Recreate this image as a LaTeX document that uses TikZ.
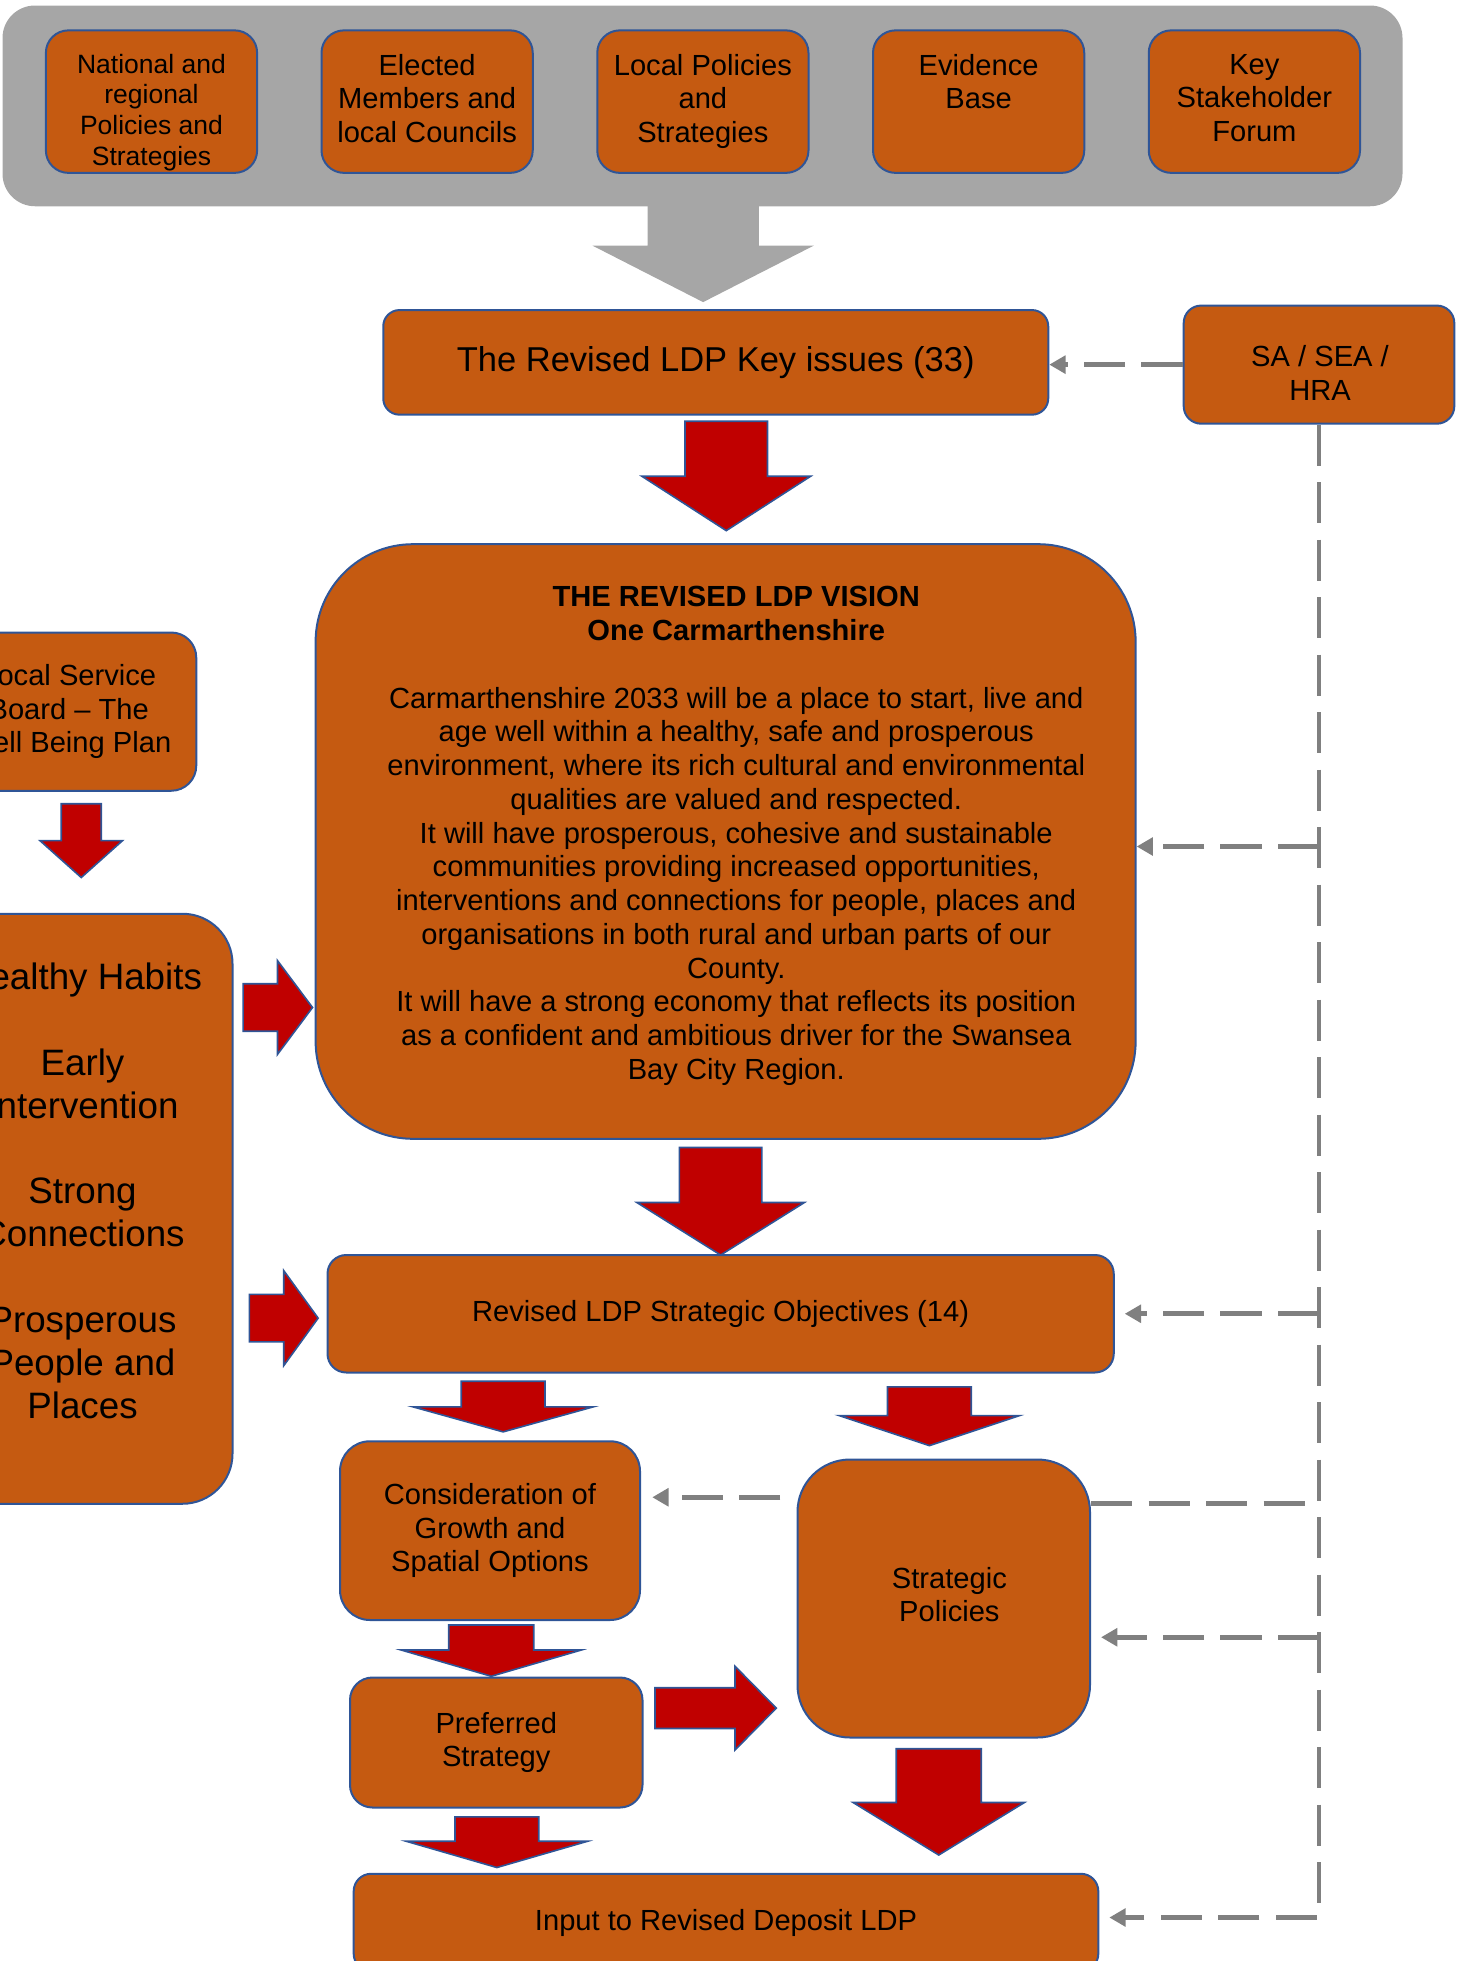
\documentclass[tikz,border=0pt]{standalone}
\usepackage{fontspec}
\setmainfont{Liberation Sans}
\usetikzlibrary{arrows.meta}

\definecolor{boxfill}{HTML}{C55A11}
\definecolor{boxline}{HTML}{2F5597}
\definecolor{arrowred}{HTML}{C00000}
\definecolor{panelgrey}{HTML}{A6A6A6}
\definecolor{dashgrey}{HTML}{808080}

% block arrows: x centre, top, neck, tip, stem half width, head half width
\newcommand{\blockdown}[7][redblock]{%
  \path[#1] (#2-#6,#3) -- (#2+#6,#3) -- (#2+#6,#4) -- (#2+#7,#4) -- (#2,#5)
    -- (#2-#7,#4) -- (#2-#6,#4) -- cycle;}
% y centre, left, neck, tip, stem half width, head half width
\newcommand{\blockright}[6]{%
  \path[redblock] (#2,#1-#5) -- (#3,#1-#5) -- (#3,#1-#6) -- (#4,#1)
    -- (#3,#1+#6) -- (#3,#1+#5) -- (#2,#1+#5) -- cycle;}

\begin{document}
\begin{tikzpicture}[x=1pt, y=-1pt,
    box/.style={draw=boxline, line width=1.6pt, fill=boxfill, inner sep=0pt,
      align=center, font=\fontsize{23.3}{27}\selectfont},
    boxtext/.style={inner sep=0pt, align=center, anchor=north,
      font=\fontsize{23.3}{27}\selectfont},
    redblock/.style={fill=arrowred, draw=boxline, line width=1.3pt},
    greyblock/.style={fill=panelgrey},
    feedback/.style={draw=dashgrey, line width=3.8pt, dash pattern=on 33pt off 13pt},
    fbarrow/.style={-{Triangle[length=13pt,width=14pt]}}]
    \useasboundingbox (0,0) rectangle (1170.4,1568.8);
    \clip (0,0) rectangle (1170.4,1568.8);

    % sources panel
    \node[fill=panelgrey, rounded corners=26pt, inner sep=0pt,
      minimum width=1120pt, minimum height=160.6pt] (sources) at (562,84.7) {};
    \node[box, rounded corners=18pt, minimum width=169pt, minimum height=114pt] (natpol) at (121.2,81.3) {};
    \node[box, rounded corners=18pt, minimum width=169pt, minimum height=114pt] (members) at (341.7,81.3) {};
    \node[box, rounded corners=18pt, minimum width=169pt, minimum height=114pt] (localpol) at (562.3,81.3) {};
    \node[box, rounded corners=18pt, minimum width=169pt, minimum height=114pt] (evidence) at (782.9,81.3) {};
    \node[box, rounded corners=18pt, minimum width=169pt, minimum height=114pt] (forum) at (1003.5,81.3) {};
    \node[boxtext, font=\fontsize{21.2}{24.6}\selectfont] (natpol-text) at (121.2,43) {National and\\regional\\Policies and\\Strategies};
    \node[boxtext] (members-text) at (341.7,43) {Elected\\Members and\\local Councils};
    \node[boxtext] (localpol-text) at (562.3,43) {Local Policies\\and\\Strategies};
    \node[boxtext] (evidence-text) at (782.9,43) {Evidence\\Base};
    \node[boxtext] (forum-text) at (1003.5,43) {Key\\Stakeholder\\Forum};
    \blockdown[greyblock]{562.5}{160}{196.5}{241.7}{44.5}{88.5}

    % main column
    \node[box, rounded corners=13pt, minimum width=532pt, minimum height=83.7pt,
      font=\fontsize{27.6}{31}\selectfont] (issues) at (572.6,289.9) {The Revised LDP Key issues (33)};
    \node[box, rounded corners=14pt, minimum width=216.5pt, minimum height=94.5pt] (sa) at (1055.2,291.7) {};
    \node[boxtext] (sa-text) at (1056,276) {SA / SEA /\\HRA};
    \blockdown{581}{337}{381}{424.5}{33}{67.5}

    \node[box, rounded corners=78pt, minimum width=656pt, minimum height=475.7pt] (vision) at (580.5,673.2) {};
    \node[boxtext] (vision-text) at (589,469.1) {{\bfseries THE REVISED LDP VISION}\\
      {\bfseries One Carmarthenshire}\\[27pt]
      Carmarthenshire 2033 will be a place to start, live and\\
      age well within a healthy, safe and prosperous\\
      environment, where its rich cultural and environmental\\
      qualities are valued and respected.\\
      It will have prosperous, cohesive and sustainable\\
      communities providing increased opportunities,\\
      interventions and connections for people, places and\\
      organisations in both rural and urban parts of our\\
      County.\\
      It will have a strong economy that reflects its position\\
      as a confident and ambitious driver for the Swansea\\
      Bay City Region.};
    \blockdown{576.5}{918}{962}{1004}{33}{67}

    % well-being plan column
    \node[box, rounded corners=20pt, minimum width=204pt, minimum height=126.6pt] (lsb) at (55,569.3) {Local Service\\Board -- The\\Well Being Plan};
    \blockdown{65}{643}{672.5}{702}{16}{33}
    \node[box, rounded corners=40pt, minimum width=240pt, minimum height=472pt] (wellbeing) at (66,967) {};
    \node[boxtext, font=\fontsize{29.4}{34.3}\selectfont] (wellbeing-text) at (66,770) {Healthy Habits\\[34.3pt]
      Early\\Intervention\\[34.3pt]
      Strong\\Connections\\[34.3pt]
      Prosperous\\People and\\Places};
    \blockright{806}{194.5}{222}{250}{19}{37.5}
    \blockright{1054.5}{199.5}{227}{254.5}{19}{38}

    % objectives and below
    \node[box, rounded corners=15pt, minimum width=629pt, minimum height=94pt] (objectives) at (576.5,1051) {Revised LDP Strategic Objectives (14)};
    \blockdown{402.5}{1105}{1125.5}{1145.5}{33.5}{72}
    \blockdown{743.5}{1109.5}{1132.5}{1156.5}{33.5}{72}
    \node[box, rounded corners=24pt, minimum width=240pt, minimum height=143pt] (consider) at (392,1224.5) {Consideration of\\Growth and\\Spatial Options};
    \blockdown{393}{1300}{1320}{1341}{34}{72}
    \node[box, rounded corners=18pt, minimum width=234pt, minimum height=104pt] (preferred) at (397,1394) {Preferred\\Strategy};
    \blockright{1366.5}{524}{588}{621}{16.3}{33.5}
    \node[box, rounded corners=42pt, minimum width=234pt, minimum height=222.4pt] (policies) at (755,1278.8) {};
    \node[boxtext] (policies-text) at (759.5,1253.5) {Strategic\\Policies};
    \blockdown{397.5}{1453.5}{1473}{1494}{33.5}{72.5}
    \blockdown{751}{1399}{1442}{1484}{34}{68.5}
    \node[box, rounded corners=14pt, minimum width=595.7pt, minimum height=78pt] (input) at (580.8,1538) {Input to Revised Deposit LDP};

    % SA / SEA / HRA feedback
    \draw[feedback, fbarrow] (sa.west) -- (sa.west -| issues.east);
    \draw[feedback, fbarrow, shorten >=8pt] (sa.south) -- ([yshift=4pt]input.east -| sa.south) -- ([yshift=4pt]input.east);
    \draw[feedback, fbarrow] ([yshift=-4pt]vision.east -| sa.south) -- ([yshift=-4pt]vision.east);
    \draw[feedback, fbarrow, shorten >=8pt] (objectives.east -| sa.south) -- (objectives.east);
    \draw[feedback] ([yshift=76pt]policies.east) -- ([yshift=76pt]policies.east -| sa.south);
    \draw[feedback, fbarrow, shorten >=8pt] ([yshift=-31pt]policies.east -| sa.south) -- ([yshift=-31pt]policies.east);
    \draw[feedback, fbarrow, shorten <=13pt, shorten >=9pt] ([yshift=81pt]policies.west) -- ([yshift=81pt]policies.west -| consider.east);
\end{tikzpicture}
\end{document}
